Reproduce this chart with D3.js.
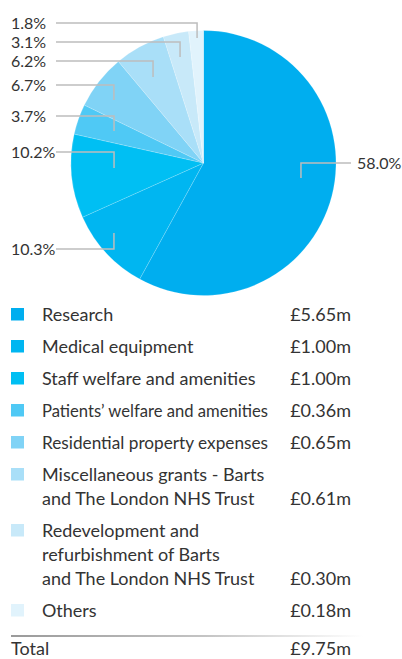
<!DOCTYPE html>
<html>
<head>
<meta charset="utf-8">
<script src="https://cdn.jsdelivr.net/npm/d3@7"></script>
<style>
  html, body { margin: 0; padding: 0; background: #fff; }
  svg { display: block; }
  text { font-family: Lato, "Open Sans", sans-serif; fill: #333; }
</style>
</head>
<body>
<svg id="chart" width="402" height="659"></svg>
<script>
// Expenditure categories (legend text, wrapped as printed)
const categoryLines = [
  ["Research"],
  ["Medical equipment"],
  ["Staff welfare and amenities"],
  ["Patients’ welfare and amenities"],
  ["Residential property expenses"],
  ["Miscellaneous grants - Barts", "and The London NHS Trust"],
  ["Redevelopment and", "refurbishment of Barts", "and The London NHS Trust"],
  ["Others"]
];
// Amounts spent, £ millions
const amounts = [5.65, 1.00, 1.00, 0.36, 0.65, 0.61, 0.30, 0.18];
// Share of total, percent (as labelled on the pie)
const shares = [58.0, 10.3, 10.2, 3.7, 6.7, 6.2, 3.1, 1.8];
const colors = ["#00aeef", "#00b6f1", "#00bff3", "#4fc9f5", "#80d3f6", "#a9dff8", "#c8e9f9", "#e1f3fc"];

// Leader placement for each slice label: radius of the anchor point,
// angular nudge (degrees), vertical leg length and side.
const leaderLayout = [
  { r: 98.6, da: -5.7, leg: 15, side: "right" },
  { r: 113.6, da: 4.7, leg: -16, side: "left" },
  { r: 89.6, da: 2.6, leg: 16, side: "left" },
  { r: 95, da: 0.4, leg: 15, side: "left" },
  { r: 109.5, da: -2.9, leg: 15, side: "left" },
  { r: 99.7, da: -1.6, leg: 16, side: "left" },
  { r: 108.6, da: -0.4, leg: 15, side: "left" },
  { r: 125.2, da: 0.3, leg: 15, side: "left" }
];

const fmtMoney = d => "£" + d.toFixed(2) + "m";
const fmtPct = d => d.toFixed(1) + "%";

const svg = d3.select("#chart");
const cx = 203.5, cy = 163, radius = 132.5;
const bodySize = 18, pctSize = 16;
const maxLabelWidth = 226;   // category text is tightened to fit the value column

// ---- pie ----
const pie = d3.pie().sort(null).value(d => d);
const arcs = pie(shares);
const arc = d3.arc().innerRadius(0).outerRadius(radius);

const g = svg.append("g").attr("transform", `translate(${cx},${cy})`);
g.selectAll("path.slice")
  .data(arcs)
  .join("path")
  .attr("class", "slice")
  .attr("d", arc)
  .attr("fill", (d, i) => colors[i])
  .attr("stroke", "rgba(255,255,255,0.35)")
  .attr("stroke-width", 0.5);

// ---- leader lines and percentage labels ----
const leaderColor = "#bdbdbd";
const leftLineStart = 56, rightLineEnd = 351;
arcs.forEach((a, i) => {
  const L = leaderLayout[i];
  const ang = (a.startAngle + a.endAngle) / 2 + L.da * Math.PI / 180;
  const ex = L.r * Math.sin(ang);
  const ey = -L.r * Math.cos(ang);
  const ly = ey - L.leg;
  const xEnd = L.side === "left" ? leftLineStart - cx : rightLineEnd - cx;
  g.append("path")
    .attr("d", d3.line()([[xEnd, ly], [ex, ly], [ex, ey]]))
    .attr("fill", "none")
    .attr("stroke", leaderColor)
    .attr("stroke-width", 1.5);
  g.append("text")
    .attr("x", L.side === "left" ? 11 - cx : 357 - cx)
    .attr("y", ly)
    .attr("dy", "0.36em")
    .attr("font-size", pctSize)
    .text(fmtPct(shares[i]));
});

// ---- legend table ----
const legendX = 11, textX = 42, valueX = 351;
const firstBaseline = 321, rowStep = 32, lineHeight = 24;
let y = firstBaseline;
const legend = svg.append("g");
categoryLines.forEach((lines, i) => {
  const row = legend.append("g");
  row.append("rect")
    .attr("x", legendX)
    .attr("y", y - 13)
    .attr("width", 13)
    .attr("height", 12.5)
    .attr("fill", colors[i]);
  lines.forEach((t, k) => {
    const txt = row.append("text")
      .attr("x", textX)
      .attr("y", y + k * lineHeight)
      .attr("font-size", bodySize)
      .text(t);
    if (txt.node().getComputedTextLength() > maxLabelWidth) {
      txt.attr("textLength", maxLabelWidth).attr("lengthAdjust", "spacingAndGlyphs");
    }
  });
  const last = y + (lines.length - 1) * lineHeight;
  row.append("text")
    .attr("x", valueX)
    .attr("y", last)
    .attr("text-anchor", "end")
    .attr("font-size", bodySize)
    .text(fmtMoney(amounts[i]));
  y = last + rowStep;
});

// ---- total row with fading rule ----
const defs = svg.append("defs");
const grad = defs.append("linearGradient")
  .attr("id", "ruleFade")
  .attr("x1", "0%").attr("x2", "100%");
grad.append("stop").attr("offset", "0%").attr("stop-color", "#9a9a9a");
grad.append("stop").attr("offset", "55%").attr("stop-color", "#c4c4c4");
grad.append("stop").attr("offset", "100%").attr("stop-color", "#ffffff");

svg.append("rect")
  .attr("x", 11).attr("y", 635)
  .attr("width", 352).attr("height", 2)
  .attr("fill", "url(#ruleFade)");

const total = d3.sum(amounts);
svg.append("text")
  .attr("x", 11).attr("y", 655)
  .attr("font-size", bodySize)
  .text("Total");
svg.append("text")
  .attr("x", valueX).attr("y", 655)
  .attr("text-anchor", "end")
  .attr("font-size", bodySize)
  .text(fmtMoney(total));
</script>
</body>
</html>
